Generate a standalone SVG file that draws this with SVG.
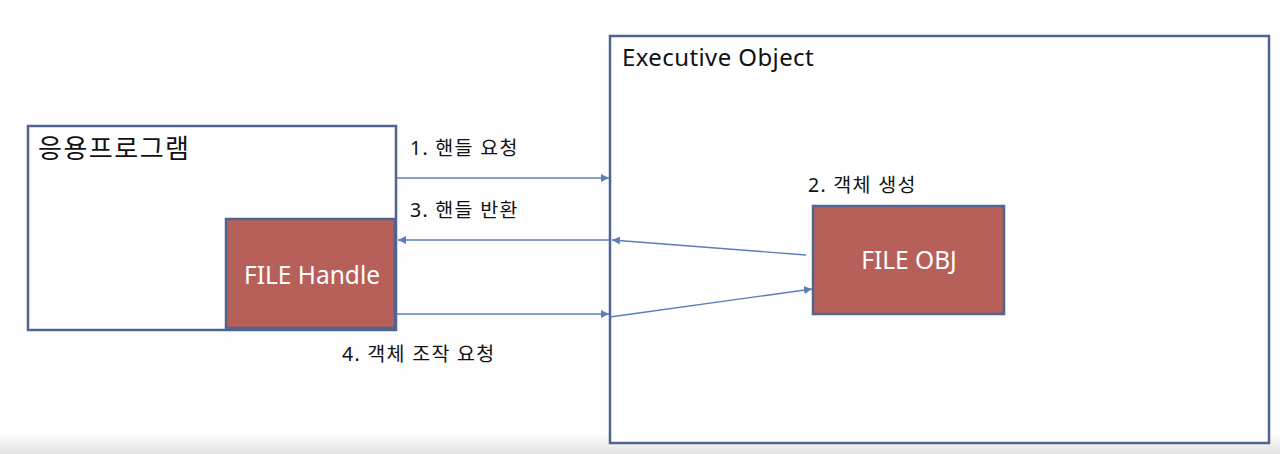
<svg xmlns="http://www.w3.org/2000/svg" width="1280" height="454" viewBox="0 0 1280 454">
<defs>
<linearGradient id="bottom" x1="0" y1="0" x2="0" y2="1">
<stop offset="0" stop-color="#ffffff"/>
<stop offset="1" stop-color="#e2e2e2"/>
</linearGradient>
<marker id="arr" viewBox="0 0 10 10" refX="10" refY="5" markerWidth="8" markerHeight="8" markerUnits="userSpaceOnUse" orient="auto">
<path d="M0,0 L10,5 L0,10 z" fill="#5b7db8"/>
</marker>
</defs>
<style>
.box{fill:#ffffff;stroke:#4f6591;stroke-width:2.5}
.red{fill:#b75f59;stroke:#4f6591;stroke-width:2.5}
.t{font-family:"Noto Sans","Noto Sans CJK KR",sans-serif;fill:#111}
.w{font-family:"Noto Sans","Noto Sans CJK KR",sans-serif;fill:#ffffff;font-size:24.5px;text-anchor:middle}
.l{font-family:"Noto Sans","Noto Sans CJK KR",sans-serif;fill:#111;font-size:19.5px;letter-spacing:1.3px}
.c{fill:none;stroke:#5b7db8;stroke-width:1.4}
</style>
<rect x="0" y="0" width="1280" height="454" fill="#fdfdfd"/>
<rect x="0" y="432" width="1280" height="22" fill="url(#bottom)"/>
<g id="app">
<rect class="box" x="28" y="126" width="368" height="204"/>
<text class="t" x="38" y="158" font-size="26" letter-spacing="1.5">응용프로그램</text>
</g>
<g id="exec">
<rect class="box" x="610" y="36" width="659" height="407"/>
<text class="t" x="622" y="66" font-size="24" letter-spacing="0.4">Executive Object</text>
</g>
<g id="handle">
<rect class="red" x="226" y="219" width="169" height="109"/>
<text class="w" x="312" y="284">FILE Handle</text>
</g>
<g id="fileobj">
<rect class="red" x="813" y="206" width="191" height="108"/>
<text class="w" x="909" y="269">FILE OBJ</text>
</g>
<g id="connectors">
<line class="c" x1="397" y1="178" x2="609" y2="178" marker-end="url(#arr)"/>
<line class="c" x1="609" y1="240" x2="398" y2="240" marker-end="url(#arr)"/>
<line class="c" x1="806" y1="255" x2="612" y2="240" marker-end="url(#arr)"/>
<line class="c" x1="397" y1="314" x2="609" y2="314" marker-end="url(#arr)"/>
<line class="c" x1="610" y1="317" x2="812" y2="289" marker-end="url(#arr)"/>
</g>
<g id="labels">
<text class="l" x="410" y="155">1. 핸들 요청</text>
<text class="l" x="410" y="217">3. 핸들 반환</text>
<text class="l" x="342" y="361">4. 객체 조작 요청</text>
<text class="l" x="808" y="192">2. 객체 생성</text>
</g>
</svg>
